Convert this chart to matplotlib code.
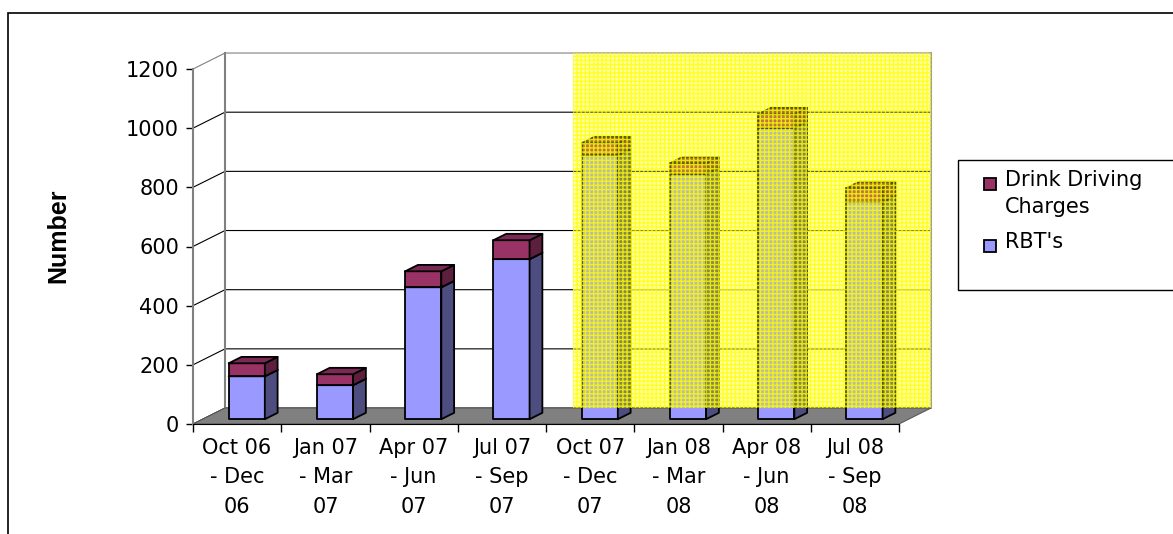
import matplotlib.pyplot as plt
from matplotlib.patches import Polygon, Rectangle

# data
periods = ['Oct 06\n- Dec\n06', 'Jan 07\n- Mar\n07', 'Apr 07\n- Jun\n07', 'Jul 07\n- Sep\n07',
           'Oct 07\n- Dec\n07', 'Jan 08\n- Mar\n08', 'Apr 08\n- Jun\n08', 'Jul 08\n- Sep\n08']
rbts = [145, 115, 446, 541, 892, 828, 984, 734]
charges = [44, 37, 54, 64, 41, 37, 47, 47]
series_names = ['Drink Driving\nCharges', "RBT's"]
restriction_start = 4          # first period with the restriction
restriction_text = 'Restriction in place'
yticks = [0, 200, 400, 600, 800, 1000, 1200]

W, H, DPI = 1173, 534, 100
DX, DY = 0.3626, 54.0          # depth of the 3-D box, in data units
FRONT, BACK = 0.3, 0.7         # depth fraction of the column faces
BAR_W = 0.41

blue, blue_side, blue_top = '#9999ff', '#4d4d80', '#7a7acc'
plum, plum_side, plum_top = '#993366', '#5c1f3d', '#7a2952'

plt.rcParams['font.family'] = ['DejaVu Sans']
plt.rcParams['hatch.linewidth'] = 1.0

fig = plt.figure(figsize=(W / DPI, H / DPI), dpi=DPI)
ax = fig.add_axes([193 / W, 110 / H, 706 / W, 355 / H])
n = len(periods)
ax.set_xlim(0, n)
ax.set_ylim(0, yticks[-1])
ax.patch.set_visible(False)


def shift(x, y, d):
    return (x + d * DX, y + d * DY)


# gridlines on side and back walls
for v in yticks:
    col = 'gray' if v == yticks[-1] else 'black'
    ax.plot([0, DX, n + DX], [v, v + DY, v + DY], color=col, lw=0.8,
            clip_on=False, zorder=1)
ax.plot([DX, DX], [DY, yticks[-1] + DY], color='gray', lw=1.5, clip_on=False, zorder=1)
ax.plot([n + DX, n + DX], [DY, yticks[-1] + DY], color='#a0a0a0', lw=1.5,
        clip_on=False, zorder=1)

# floor
ax.add_patch(Polygon([(0, 0), (n, 0), (n + DX, DY), (DX, DY)], closed=True,
                     fc='#808080', ec='#5a5a5a', lw=0.8, clip_on=False, zorder=2))


def column(x0, y0, y1, front, side, top):
    x1 = x0 + BAR_W
    faces = [
        ([shift(x0, y0, FRONT), shift(x1, y0, FRONT), shift(x1, y1, FRONT), shift(x0, y1, FRONT)], front),
        ([shift(x1, y0, FRONT), shift(x1, y0, BACK), shift(x1, y1, BACK), shift(x1, y1, FRONT)], side),
        ([shift(x0, y1, FRONT), shift(x1, y1, FRONT), shift(x1, y1, BACK), shift(x0, y1, BACK)], top),
    ]
    for pts, c in faces:
        ax.add_patch(Polygon(pts, closed=True, fc=c, ec='black', lw=1.3,
                             joinstyle='round', clip_on=False, zorder=3))


for i in range(n):
    x0 = i + 0.5 - BAR_W / 2
    column(x0, 0, rbts[i], blue, blue_side, blue_top)
    column(x0, rbts[i], rbts[i] + charges[i], plum, plum_side, plum_top)

# highlighted restriction period
x_left = restriction_start + DX - 0.06
ax.add_patch(Rectangle((x_left, DY), n + DX - x_left, yticks[-1], fc=(1, 1, 0, 0.33),
                       ec='none', clip_on=False, zorder=4))
ax.add_patch(Rectangle((x_left, DY), n + DX - x_left, yticks[-1], fc='none',
                       ec=(1, 1, 0, 0.8), lw=0, hatch='++++', clip_on=False, zorder=4))
ax.annotate(restriction_text, xy=((x_left + n + DX) / 2, yticks[-1] + DY),
            xytext=(0, -9), textcoords='offset points', ha='center', va='top',
            fontsize=16, zorder=5)

# axes
ax.set_xticks(range(n + 1))
ax.set_xticklabels([])
ax.set_xticks([i + 0.5 for i in range(n)], minor=True)
ax.set_xticklabels(periods, minor=True, fontsize=15, linespacing=1.6)
ax.tick_params(axis='x', which='major', length=6, width=1, color='black')
ax.tick_params(axis='x', which='minor', length=0, pad=10)
ax.set_yticks(yticks)
ax.tick_params(axis='y', length=5, width=1, color='black', pad=5, labelsize=15)
for s in ['top', 'right']:
    ax.spines[s].set_visible(False)
ax.spines['left'].set_color('gray')
ax.spines['left'].set_linewidth(1.5)
ax.spines['bottom'].set_color('black')

fig.text(58 / W, 1 - 236 / H, 'Number', rotation=90, fontweight='bold', fontsize=18,
         ha='center', va='center', family=['Liberation Sans'])

# legend
fig.patches.append(Rectangle((958 / W, 1 - 290 / H), 0.3, 130 / H, transform=fig.transFigure,
                             fc='white', ec='black', lw=1))
for name, col, yc in zip(series_names, [plum, blue], [184, 246]):
    fig.patches.append(Rectangle((984 / W, 1 - (yc + 6) / H), 12 / W, 12 / H,
                                 transform=fig.transFigure, fc=col, ec='black', lw=1.3))
    fig.text(1005 / W, 1 - (yc - 14) / H, name, fontsize=15, ha='left', va='top',
             linespacing=1.45)

# outer chart frame
fig.patches.append(Rectangle((8 / W, -0.1), 1.2, (H - 13) / H + 0.1, transform=fig.transFigure,
                             fc='none', ec='black', lw=1.2))

fig.savefig('out.png', dpi=DPI, facecolor='white')
